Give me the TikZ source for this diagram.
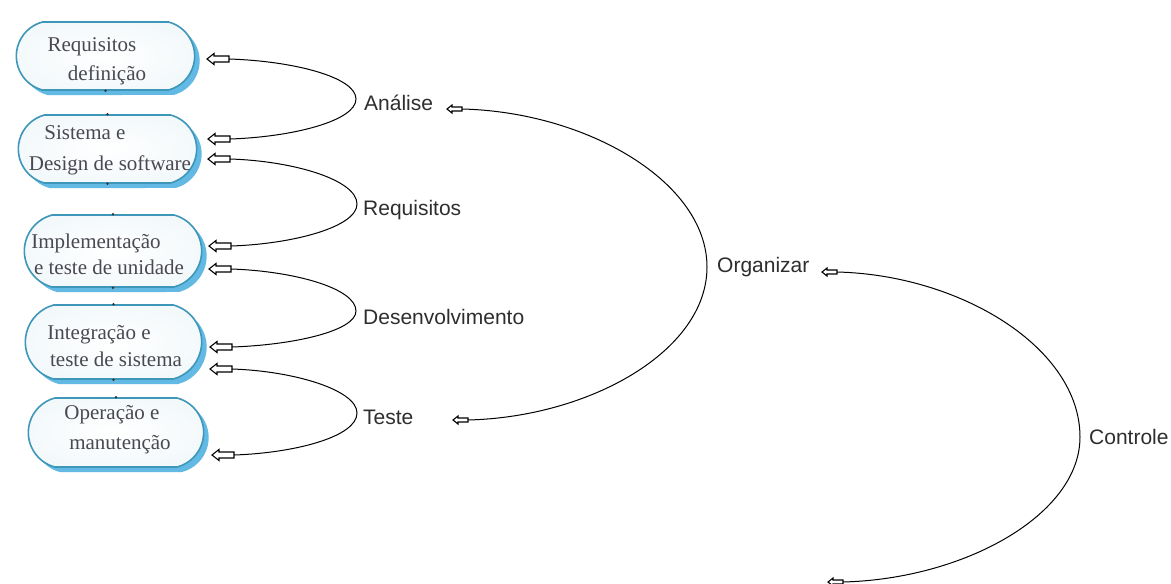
\documentclass[tikz,border=0pt]{standalone}
\usepackage{fontspec}
\setmainfont{Liberation Serif}
\setsansfont{Liberation Sans}
\usetikzlibrary{shapes.misc,shadows,backgrounds,calc}
\definecolor{boxline}{HTML}{3E96B8}
\definecolor{boxshadow}{HTML}{62BAE4}
\definecolor{boxtext}{HTML}{4A4852}
\definecolor{labeltext}{HTML}{2E2E2E}
\begin{document}
\begin{tikzpicture}[x=1pt,y=1pt,
  phase/.style={rounded rectangle, rounded rectangle arc length=150, draw=boxline, line width=1.6pt,
    inner color=white, outer color=boxline!6,
    general shadow={fill=boxshadow, shadow xshift=5pt, shadow yshift=-5pt}},
  boxtxt/.style={text=boxtext, font=\fontsize{21}{23}\selectfont, inner sep=0pt},
  lbl/.style={text=labeltext, font=\sffamily\fontsize{21}{23}\selectfont, anchor=west, inner sep=0pt},
  larrow/.pic={\draw[line width=1.1pt, fill=white, line join=miter]
      (0,0) -- (7,5.5) -- (7,3) -- (22,3) -- (22,-3) -- (7,-3) -- (7,-5.5) -- cycle;
    \coordinate (-tail) at (22,0);},
  sarrow/.pic={\draw[line width=1.1pt, fill=white, line join=miter]
      (0,0) -- (5,4) -- (5,2) -- (15,2) -- (15,-2) -- (5,-2) -- (5,-4) -- cycle;
    \coordinate (-tail) at (15,0);},
  conn/.style={line width=1pt, black},
  dot/.style={fill=black!80}]
\useasboundingbox (0,0) rectangle (1171,-584);
\fill[white] (0,0) rectangle (1171,-584);

% phases
\node[phase, minimum width=185pt, minimum height=68pt] (b1) at (105.5,-56) {};
\node[phase, minimum width=185pt, minimum height=68pt] (b2) at (107.5,-149) {};
\node[phase, minimum width=184pt, minimum height=72pt] (b3) at (113,-251) {};
\node[phase, minimum width=183pt, minimum height=74pt] (b4) at (113.5,-342) {};
\node[phase, minimum width=182pt, minimum height=69pt] (b5) at (116,-432.5) {};

\begin{scope}[on background layer]
  \foreach \b in {b1,b2,b3,b4,b5}
    \fill[boxshadow] ($(\b.south east)+(-30,-5)$) rectangle ($(\b.east)+(5,-5)$);
\end{scope}

\node[boxtxt] (b1t1) at (92,-47) {Requisitos};
\node[boxtxt] (b1t2) at (107,-75) {definição};
\node[boxtxt] (b2t1) at (85,-133) {Sistema e};
\node[boxtxt] (b2t2) at (110,-165) {Design de software};
\node[boxtxt] (b3t1) at (96,-243) {Implementação};
\node[boxtxt] (b3t2) at (109,-267) {e teste de unidade};
\node[boxtxt] (b4t1) at (99,-335) {Integração e};
\node[boxtxt] (b4t2) at (116,-359) {teste de sistema};
\node[boxtxt] (b5t1) at (112,-415) {Operação e};
\node[boxtxt] (b5t2) at (120,-445) {manutenção};

% small dots between phases
\foreach \p in {b1.south,b2.north,b2.south,b3.north,b3.south,b4.north,b4.south,b5.north}
  \fill[dot] (\p) circle (1.4pt);

% arrow heads on the phases
\pic (a1) at (207,-59) {larrow};
\pic (a2) at (208,-139) {larrow};
\pic (a3) at (208,-159) {larrow};
\pic (a4) at (209,-246) {larrow};
\pic (a5) at (209,-269) {larrow};
\pic (a6) at (210,-347) {larrow};
\pic (a7) at (210,-369) {larrow};
\pic (a8) at (212,-455) {larrow};

% loop tips
\coordinate (t1) at (356,-99);
\coordinate (t2) at (357,-204);
\coordinate (t3) at (356,-311);
\coordinate (t4) at (357,-413);

\draw[conn] (a1-tail) .. controls +(64,-2) and +(0,22) .. (t1) .. controls +(0,-22) and +(62,2) .. (a2-tail);
\draw[conn] (a3-tail) .. controls +(64,-2) and +(0,24) .. (t2) .. controls +(0,-23) and +(62,2) .. (a4-tail);
\draw[conn] (a5-tail) .. controls +(62,-2) and +(0,23) .. (t3) .. controls +(0,-20) and +(61,2) .. (a6-tail);
\draw[conn] (a7-tail) .. controls +(62,-2) and +(0,23) .. (t4) .. controls +(0,-24) and +(60,2) .. (a8-tail);

\node[lbl] (l1) at ($(t1)+(8,-4)$) {Análise};
\node[lbl] (l2) at ($(t2)+(6,-6)$) {Requisitos};
\node[lbl] (l3) at ($(t3)+(7,-6)$) {Desenvolvimento};
\node[lbl] (l4) at ($(t4)+(6,-4)$) {Teste};

% big loops
\pic (c1) at (447,-109) {sarrow};
\pic (c2) at (453,-420) {sarrow};
\coordinate (t5) at (707,-267);
\draw[conn] (c1-tail) .. controls +(125,-3) and +(0,85) .. (t5) .. controls +(0,-84) and +(122,3) .. (c2-tail);
\node[lbl] (l5) at ($(t5)+(10,0)$) {Organizar};

\pic (c3) at (822,-272) {sarrow};
\pic (c4) at (828,-582) {sarrow};
\coordinate (t6) at (1080,-437);
\draw[conn] (c3-tail) .. controls +(124,-3) and +(0,89) .. (t6) .. controls +(0,-78) and +(121,3) .. (c4-tail);
\node[lbl] (l6) at ($(t6)+(9,0)$) {Controle};
\end{tikzpicture}
\end{document}
